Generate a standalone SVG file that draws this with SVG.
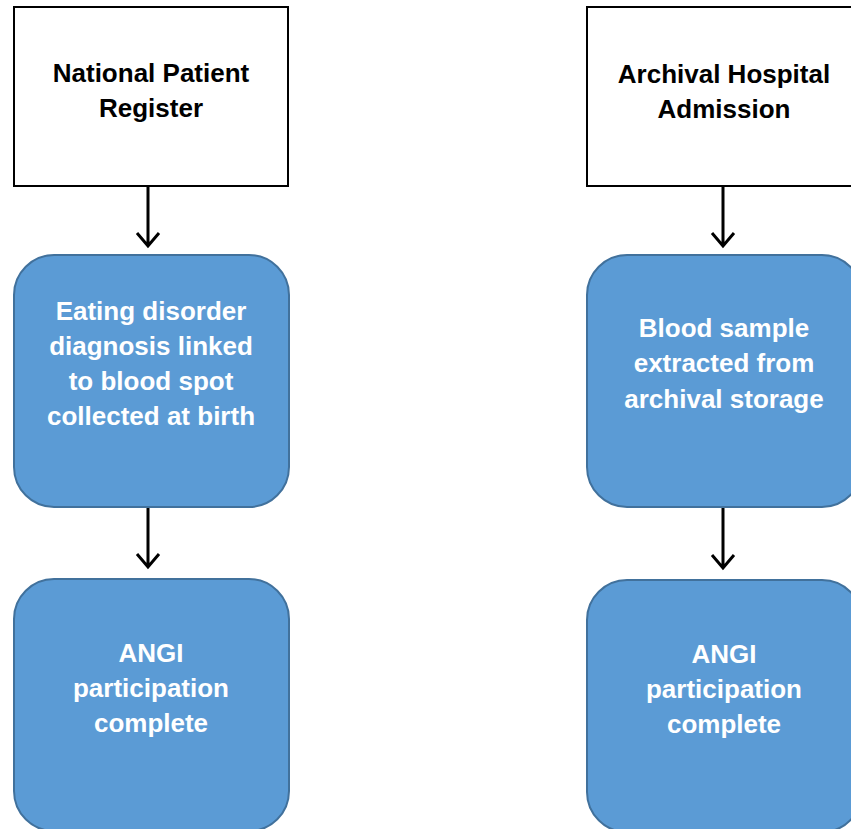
<svg xmlns="http://www.w3.org/2000/svg" width="851" height="829" viewBox="0 0 851 829">
<defs>
<style>
.src{fill:#ffffff;stroke:#000000;stroke-width:2}
.step{fill:#5B9BD5;stroke:#41719C;stroke-width:2}
.lblk{font-family:"Liberation Sans",Arial,sans-serif;font-weight:bold;font-size:26px;fill:#000000;text-anchor:middle}
.lwht{font-family:"Liberation Sans",Arial,sans-serif;font-weight:bold;font-size:26px;fill:#ffffff;text-anchor:middle}
.conn{fill:none;stroke:#000000;stroke-width:3}
</style>
</defs>
<rect width="851" height="829" fill="#ffffff"/>
<g id="connectors">
<path class="conn" d="M148,187 V246 M137,233 L148,246 L159,233"/>
<path class="conn" d="M148,508 V567 M137,554 L148,567 L159,554"/>
<path class="conn" d="M723,187 V246 M712,233 L723,246 L734,233"/>
<path class="conn" d="M723,508 V568 M712,555 L723,568 L734,555"/>
</g>
<g id="node-npr">
<rect class="src" x="14" y="7" width="274" height="179"/>
<text class="lblk" x="151" y="82">National Patient</text>
<text class="lblk" x="151" y="117">Register</text>
</g>
<g id="node-eating">
<rect class="step" x="14" y="255" width="275" height="252" rx="40" ry="40"/>
<text class="lwht" x="151" y="320">Eating disorder</text>
<text class="lwht" x="151" y="355">diagnosis linked</text>
<text class="lwht" x="151" y="390">to blood spot</text>
<text class="lwht" x="151" y="425">collected at birth</text>
</g>
<g id="node-angi-left">
<rect class="step" x="14" y="579" width="275" height="252" rx="40" ry="40"/>
<text class="lwht" x="151" y="662">ANGI</text>
<text class="lwht" x="151" y="697">participation</text>
<text class="lwht" x="151" y="732">complete</text>
</g>
<g id="node-aha">
<rect class="src" x="587" y="7" width="274" height="179"/>
<text class="lblk" x="724" y="83">Archival Hospital</text>
<text class="lblk" x="724" y="118">Admission</text>
</g>
<g id="node-blood">
<rect class="step" x="587" y="255" width="275" height="252" rx="40" ry="40"/>
<text class="lwht" x="724" y="337">Blood sample</text>
<text class="lwht" x="724" y="372">extracted from</text>
<text class="lwht" x="724" y="408">archival storage</text>
</g>
<g id="node-angi-right">
<rect class="step" x="587" y="580" width="275" height="252" rx="40" ry="40"/>
<text class="lwht" x="724" y="663">ANGI</text>
<text class="lwht" x="724" y="698">participation</text>
<text class="lwht" x="724" y="733">complete</text>
</g>
</svg>
